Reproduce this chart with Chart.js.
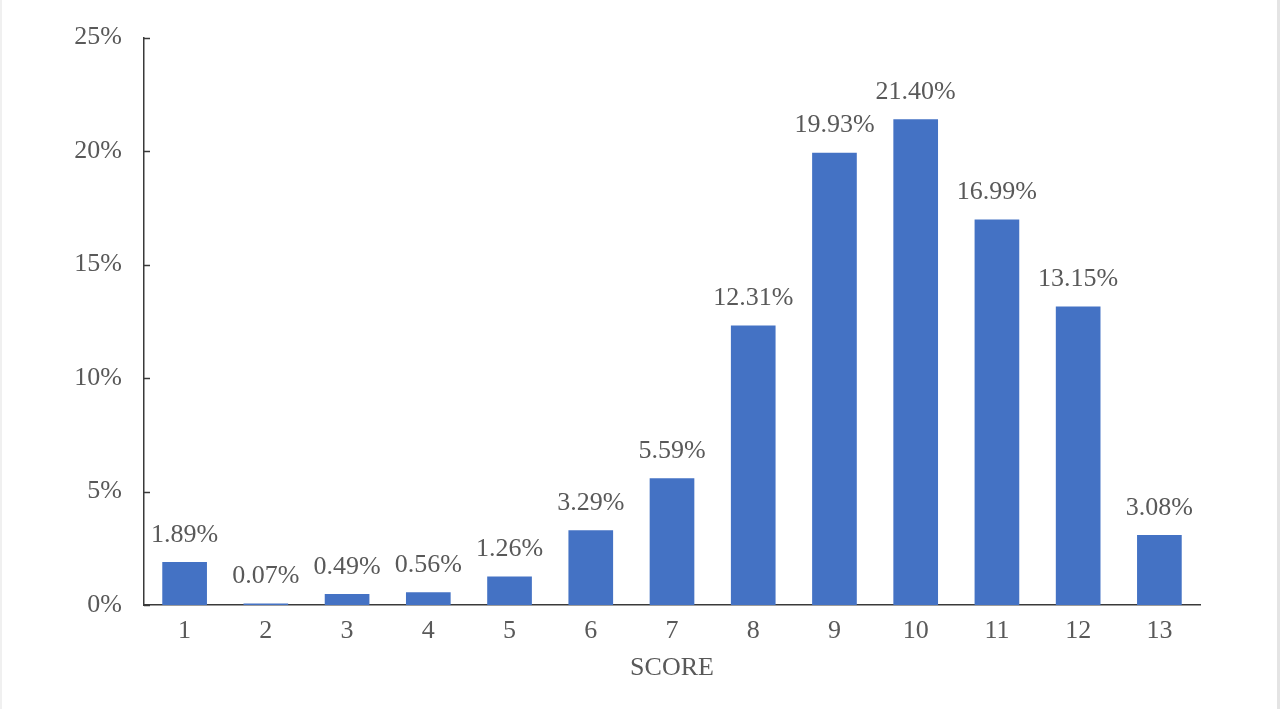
<!DOCTYPE html>
<html>
<head>
<meta charset="utf-8">
<script src="https://cdn.jsdelivr.net/npm/chart.js@4"></script>
<style>
  html, body { margin: 0; padding: 0; background: #fff; }
  #wrap { position: relative; width: 1280px; height: 709px; box-sizing: border-box;
          border-left: 2px solid #f0f0f0; border-right: 3px solid #e4e4e4; }
  canvas { position: absolute; left: -2px; top: 0; }
</style>
</head>
<body>
<div id="wrap"><canvas id="scoreChart" width="1280" height="709"></canvas></div>
<script>
// Data
const scores = ['1', '2', '3', '4', '5', '6', '7', '8', '9', '10', '11', '12', '13'];
const shares = [1.89, 0.07, 0.49, 0.56, 1.26, 3.29, 5.59, 12.31, 19.93, 21.40, 16.99, 13.15, 3.08];
const yTicks = [0, 5, 10, 15, 20, 25];

const textColor = '#595959';
const axisColor = '#3a3a3a';
const fontFamily = "'Liberation Serif', 'Times New Roman', serif";
const fontSize = 26;

// Value labels above each bar
const barLabels = {
    id: 'barLabels',
    afterDatasetsDraw(chart) {
        const ctx = chart.ctx;
        const meta = chart.getDatasetMeta(0);
        ctx.save();
        ctx.font = fontSize + 'px ' + fontFamily;
        ctx.fillStyle = textColor;
        ctx.textAlign = 'center';
        ctx.textBaseline = 'middle';
        meta.data.forEach((bar, i) => {
            ctx.fillText(shares[i].toFixed(2) + '%', bar.x, bar.y - 27);
        });
        ctx.restore();
    }
};

// Small tick marks pointing inward from the y axis
const innerTicks = {
    id: 'innerTicks',
    afterDraw(chart) {
        const ctx = chart.ctx;
        const y = chart.scales.y;
        ctx.save();
        ctx.strokeStyle = axisColor;
        ctx.lineWidth = 1.5;
        yTicks.forEach(v => {
            const py = Math.round(y.getPixelForValue(v)) + 0.5;
            ctx.beginPath();
            ctx.moveTo(y.right, py);
            ctx.lineTo(y.right + 6, py);
            ctx.stroke();
        });
        ctx.restore();
    }
};

const ctx = document.getElementById('scoreChart').getContext('2d');
new Chart(ctx, {
    type: 'bar',
    data: {
        labels: scores,
        datasets: [{
            label: 'Share',
            data: shares,
            backgroundColor: '#4472C4',
            categoryPercentage: 1.0,
            barPercentage: 0.55
        }]
    },
    options: {
        responsive: false,
        animation: false,
        layout: { padding: { left: 0, right: 80, top: 37, bottom: 25 } },
        plugins: {
            legend: { display: false },
            tooltip: { enabled: false }
        },
        scales: {
            y: {
                min: 0,
                max: 25,
                afterFit(scale) { scale.width = 144; },
                afterBuildTicks(scale) { scale.ticks = yTicks.map(v => ({ value: v })); },
                grid: { display: false, drawTicks: false },
                border: { display: true, color: axisColor, width: 1.5 },
                ticks: {
                    padding: 22,
                    color: textColor,
                    font: { family: fontFamily, size: fontSize },
                    callback: v => v + '%'
                }
            },
            x: {
                afterFit(scale) { scale.height = 79; },
                grid: { display: false, drawTicks: false },
                border: { display: true, color: axisColor, width: 1.5 },
                ticks: {
                    padding: 11,
                    color: textColor,
                    font: { family: fontFamily, size: fontSize }
                },
                title: {
                    display: true,
                    text: 'SCORE',
                    color: textColor,
                    font: { family: fontFamily, size: fontSize },
                    padding: { top: 0, bottom: 0 }
                }
            }
        }
    },
    plugins: [barLabels, innerTicks]
});
</script>
</body>
</html>
